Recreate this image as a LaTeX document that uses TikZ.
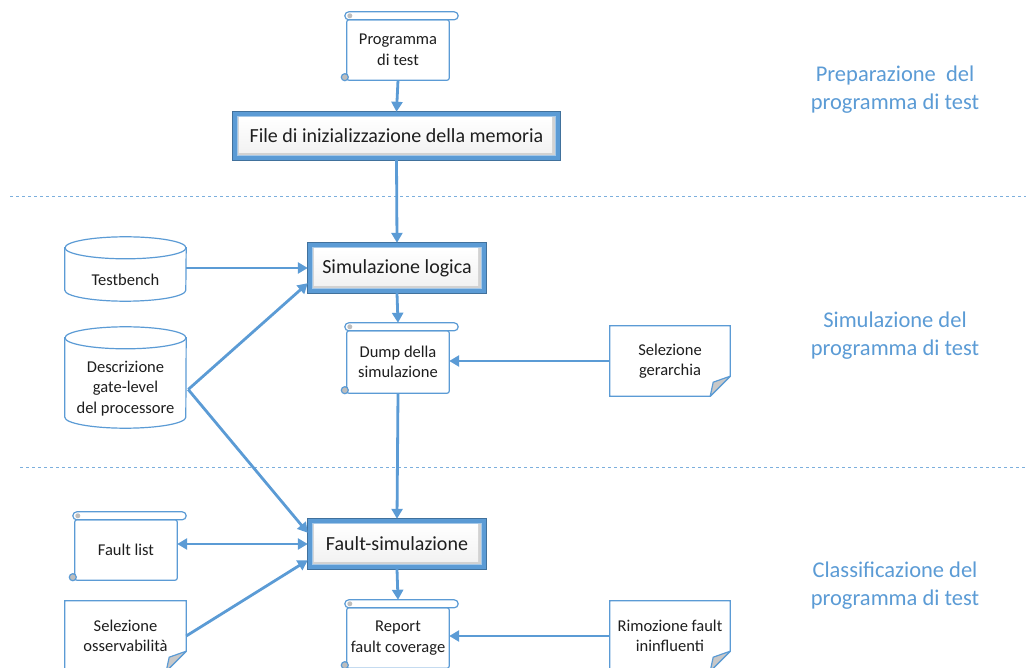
\documentclass[tikz,border=0pt]{standalone}
\usepackage{fontspec}
\setmainfont{Carlito}
\usetikzlibrary{calc,arrows.meta,backgrounds}

\definecolor{flowblue}{HTML}{5B9BD5}
\definecolor{edgeblue}{HTML}{41719C}
\definecolor{labelblue}{HTML}{5B9BD5}
\definecolor{foldgray}{HTML}{C8C8C8}
\definecolor{curlgray}{HTML}{BDBDBD}
\definecolor{inktext}{HTML}{1E1E1E}

\tikzset{
  txtS/.style={font=\fontsize{16.5}{20.5}\selectfont, align=center, inner sep=0pt, text=inktext},
  txtM/.style={font=\fontsize{20}{24}\selectfont, align=center, inner sep=0pt, text=inktext},
  lbl/.style={font=\fontsize{22.5}{28}\selectfont, align=center, inner sep=0pt, text=labelblue},
  shapeline/.style={draw=flowblue, line width=1.2pt},
  flow/.style={draw=flowblue, line width=2.8pt, -{Triangle[length=10pt,width=11pt]}},
  flowboth/.style={draw=flowblue, line width=2.8pt, {Triangle[length=10pt,width=11pt]}-{Triangle[length=10pt,width=11pt]}},
  sepline/.style={draw=flowblue!80, line width=1pt, dash pattern=on 3pt off 3pt},
}

% scroll: body is the node, the roll sits above it
\newcommand{\scrolldeco}[1]{%
  \draw[shapeline, fill=white, rounded corners=2pt] (#1.north west) rectangle (#1.south east);
  \draw[shapeline, fill=white, rounded corners=4pt] ($(#1.north west)+(-2,-8)$) rectangle ($(#1.north east)+(9,0)$);
  \fill[curlgray] ($(#1.north west)+(3,-4)$) circle (2.5pt);
  \draw[shapeline, fill=curlgray] ($(#1.south west)+(-2,-3)$) circle (3.5pt);
}
% sheet with a folded lower right corner
\newcommand{\notedeco}[1]{%
  \draw[shapeline, fill=white] (#1.north west) -- (#1.north east) -- ($(#1.south east)+(0,-20)$)
     -- ($(#1.south east)+(-20,0)$) -- (#1.south west) -- cycle;
  \draw[shapeline, fill=foldgray, line join=round] ($(#1.south east)+(0,-20)$) -- ($(#1.south east)+(-20,0)$)
     -- ($(#1.south east)+(-17,-14)$) -- cycle;
}
% cylinder: the node is the body below the top ellipse
\newcommand{\cyldeco}[1]{%
  \draw[shapeline, fill=white] ($(#1.north west)+(0,-11)$) -- ($(#1.south west)+(0,-11)$)
     arc[start angle=180, end angle=360, x radius=60.5pt, y radius=11pt]
     -- ($(#1.north east)+(0,-11)$) -- cycle;
  \draw[shapeline, fill=white] ($(#1.north)+(0,-11)$) ellipse [x radius=60.5pt, y radius=11pt];
}
% process box with a bevelled blue frame
\newcommand{\mainframe}[1]{%
  \fill[edgeblue] ($(#1.north west)+(-1,-1)$) rectangle ($(#1.south east)+(1,1)$);
  \fill[flowblue] (#1.north west) rectangle (#1.south east);
  \fill[flowblue!55] ($(#1.north west)+(4,4)$) rectangle ($(#1.south east)+(-4,-4)$);
  \fill[gray!35] ($(#1.north west)+(5,5)$) rectangle ($(#1.south east)+(-5,-5)$);
  \shade[top color=white, bottom color=gray!10] ($(#1.north west)+(6,6)$) rectangle ($(#1.south east)+(-8,-8)$);
}

\begin{document}
\begin{tikzpicture}[x=1pt, y=-1pt]
\useasboundingbox (0,0) rectangle (1026,668);
\clip (0,0) rectangle (1026,668);

% nodes
\node[txtS, minimum width=102, minimum height=60] (prog) at (398,50) {Programma\\di test};
\node[txtM, minimum width=327, minimum height=48] (init) at (396.5,136) {File di inizializzazione della memoria};
\node[txtM, minimum width=178, minimum height=50] (simlog) at (397,268) {Simulazione logica};
\node[txtS, minimum width=121, minimum height=42] (tb) at (125.5,280) {Testbench};
\node[txtS, minimum width=121, minimum height=79] (desc) at (125.5,388.5) {Descrizione\\gate-level\\del processore};
\node[txtS, minimum width=102, minimum height=62] (dump) at (398,362) {Dump della\\simulazione};
\node[txtS, minimum width=120, minimum height=70] (selger) at (670,361) {Selezione\\gerarchia};
\node[txtM, minimum width=178, minimum height=50] (fsim) at (397,544) {Fault-simulazione};
\node[txtS, minimum width=102, minimum height=60] (flist) at (126,550) {Fault list};
\node[txtS, minimum width=121, minimum height=70] (selos) at (125.5,636) {Selezione\\osservabilità};
\node[txtS, minimum width=102, minimum height=60] (report) at (398,638) {Report\\fault coverage};
\node[txtS, minimum width=120, minimum height=70] (rimoz) at (670,636) {Rimozione fault\\ininfluenti};

% phase labels
\node[lbl] (lab1) at (895,90) {Preparazione\ \ del\\programma di test};
\node[lbl] (lab2) at (895,336) {Simulazione del\\programma di test};
\node[lbl] (lab3) at (895,586) {Classificazione del\\programma di test};

% shapes behind the texts
\begin{scope}[on background layer]
  \scrolldeco{prog}
  \scrolldeco{dump}
  \scrolldeco{flist}
  \scrolldeco{report}
  \mainframe{init}
  \mainframe{simlog}
  \mainframe{fsim}
  \cyldeco{tb}
  \cyldeco{desc}
  \notedeco{selger}
  \notedeco{selos}
  \notedeco{rimoz}
\end{scope}

% phase separators
\coordinate (s1a) at (10,197);
\coordinate (s1b) at (1026,197);
\coordinate (s2a) at (20,467);
\coordinate (s2b) at (1026,467);
\draw[sepline] (s1a) -- (s1b);
\draw[sepline] (s2a) -- (s2b);

% connectors
\draw[flow] (prog.south) -- (init.north);
\draw[flow] (init.south) -- (simlog.north);
\draw[flow] (tb.east |- simlog.west) -- (simlog.west);
\coordinate (dj) at ($(desc.east)+(2,1)$);
\draw[flow] (dj) -- ($(simlog.south west)+(0,-10)$);
\draw[flow] (dj) -- ($(fsim.north west)+(0,14)$);
\draw[flow] (simlog.south) -- ($(dump.north)+(0,-8)$);
\draw[flow] (selger.west) -- (selger.west -| dump.east);
\draw[flow] (dump.south) -- (fsim.north);
\draw[flowboth] (flist.east |- fsim.west) -- (fsim.west);
\draw[flow] (selos.east) -- ($(fsim.south west)+(0,-9)$);
\draw[flow] (fsim.south) -- ($(report.north)+(0,-8)$);
\draw[flow] (rimoz.west) -- (rimoz.west -| report.east);
\end{tikzpicture}
\end{document}
